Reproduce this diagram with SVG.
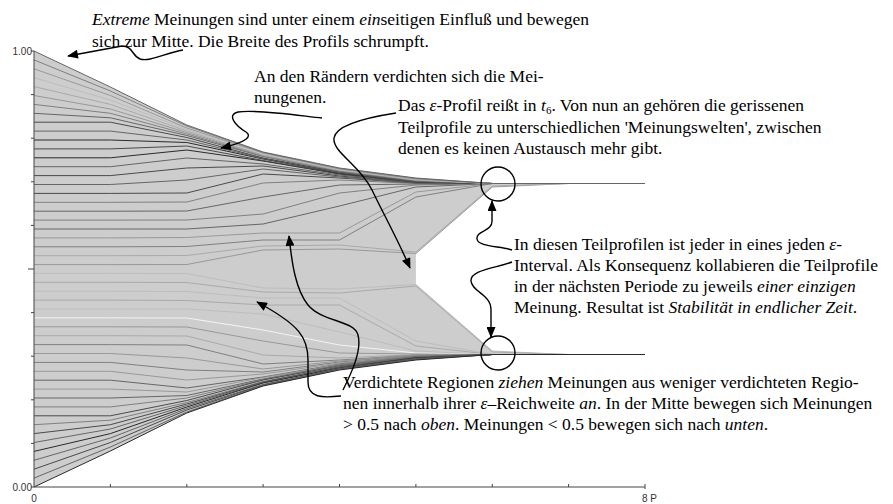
<svg xmlns="http://www.w3.org/2000/svg" width="893" height="504" viewBox="0 0 893 504">
<defs>
<style>
.t{font-family:"Liberation Serif","Times New Roman",serif;font-size:17.5px;fill:#000}
.i{font-style:italic}
.ax{font-family:"Liberation Sans",Arial,sans-serif;font-size:10px;fill:#333}
.axl{stroke:#444;stroke-width:1;fill:none}
.tr{fill:none;stroke-width:1}
.g1{stroke:#2a2a2a}.g2{stroke:#4a4a4a}.g3{stroke:#666}.g4{stroke:#808080}.g5{stroke:#999}.g6{stroke:#aaa}.g7{stroke:#bdbdbd}.gw{stroke:#f4f4f4}
.cn{fill:none;stroke:#000;stroke-width:1.4;marker-end:url(#ah)}
.ring{fill:none;stroke:#000;stroke-width:1.4}
</style>
<marker id="ah" viewBox="0 0 12 10" refX="11" refY="5" markerWidth="12" markerHeight="9" markerUnits="userSpaceOnUse" orient="auto"><path d="M0,0 L12,5 L0,10 z" fill="#000"/></marker>
</defs>
<rect width="893" height="504" fill="#fff"/>
<g id="chart">
<polygon fill="#cdcdcd" points="34,51 110.4,87 186.8,125 263.1,152 339.5,168 415.9,178 492.3,183.5 568.6,183.5 492.3,187 415.9,253.5 415.9,284.5 492.3,351 568.6,354.5 492.3,354.5 415.9,360 339.5,370 263.1,386 186.8,413 110.4,451 34,487"/>
<g id="trajectories">
<polyline class="tr g7" points="34,273.4 110.4,273.4 186.8,273.5 263.1,288 339.5,289 415.9,284.5 492.3,351 568.6,354.5 645,354.5"/>
<polyline class="tr g6" points="34,282.3 110.4,282.3 186.8,282.5 263.1,292 339.5,293 415.9,286 492.3,352 568.6,354.5 645,354.5"/>
<polyline class="tr g7" points="34,291.2 110.4,291.2 186.8,291.5 263.1,298 339.5,298 415.9,341 492.3,354.5 645,354.5"/>
<polyline class="tr g6" points="34,300.1 110.4,300.1 186.8,300.5 263.1,305 339.5,305 415.9,346 492.3,354.5 645,354.5"/>
<polyline class="tr g7" points="34,309 110.4,309 186.8,309 263.1,314 339.5,332 415.9,351 492.3,354.5 645,354.5"/>
<polyline class="tr gw" points="34,317.9 110.4,317.9 186.8,318 263.1,330 339.5,345 415.9,353 492.3,354.5 645,354.5"/>
<polyline class="tr g5" points="34,326.8 110.4,326.8 186.8,327 263.1,341 339.5,353 415.9,354 492.3,354.5 645,354.5"/>
<polyline class="tr g6" points="34,335.7 110.4,335.7 186.8,336 263.1,355 339.5,358 415.9,354.5 492.3,354.5 645,354.5"/>
<polyline class="tr g4" points="34,344.6 110.4,344.6 186.8,345 263.1,364 339.5,360 415.9,355 492.3,354.5 645,354.5"/>
<polyline class="tr g5" points="34,353.5 110.4,353.5 186.8,358 263.1,369 339.5,361 415.9,355 492.3,354.5 645,354.5"/>
<polyline class="tr g4" points="34,362.4 110.4,362.4 186.8,370 263.1,372 339.5,362 415.9,355.5 492.3,354.5 645,354.5"/>
<polyline class="tr g5" points="34,371.3 110.4,371.3 186.8,380 263.1,374 339.5,363 415.9,355.5 492.3,354.5 645,354.5"/>
<polyline class="tr g3" points="34,380.2 110.4,380.2 186.8,388 263.1,377 339.5,364 415.9,356 492.3,354.5 645,354.5"/>
<polyline class="tr g5" points="34,389.1 110.4,389.1 186.8,392 263.1,377.5 339.5,364.5 415.9,356 492.3,354.5 645,354.5"/>
<polyline class="tr g3" points="34,398 110.4,398 186.8,395.5 263.1,379 339.5,365 415.9,356.5 492.3,354.5 645,354.5"/>
<polyline class="tr g4" points="34,406.9 110.4,406.9 186.8,398 263.1,379.5 339.5,365.5 415.9,356.5 492.3,354.5 645,354.5"/>
<polyline class="tr g2" points="34,415.8 110.4,415.8 186.8,400.5 263.1,380 339.5,366 415.9,357 492.3,354.5 645,354.5"/>
<polyline class="tr g4" points="34,424.7 110.4,420.2 186.8,402.5 263.1,381.5 339.5,366.5 415.9,357 492.3,354.5 645,354.5"/>
<polyline class="tr g2" points="34,433.6 110.4,424.7 186.8,404 263.1,382 339.5,367 415.9,357.5 492.3,354.5 645,354.5"/>
<polyline class="tr g3" points="34,442.5 110.4,429 186.8,405.5 263.1,382.5 339.5,367.5 415.9,358 492.3,354.5 645,354.5"/>
<polyline class="tr g1" points="34,451.4 110.4,433.6 186.8,407 263.1,383 339.5,368 415.9,358 492.3,354.5 645,354.5"/>
<polyline class="tr g3" points="34,460.3 110.4,438 186.8,408.5 263.1,384.5 339.5,368.5 415.9,358.5 492.3,354.5 645,354.5"/>
<polyline class="tr g2" points="34,469.2 110.4,442.5 186.8,410 263.1,385 339.5,369 415.9,359 492.3,354.5 645,354.5"/>
<polyline class="tr g3" points="34,478.1 110.4,447 186.8,412 263.1,385.5 339.5,369.5 415.9,359.5 492.3,354.5 645,354.5"/>
<polyline class="tr g1" points="34,487 110.4,451 186.8,413 263.1,386 339.5,370 415.9,360 492.3,354.5 645,354.5"/>
<polyline class="tr g5" points="34,264.6 110.4,264.6 186.8,264.5 263.1,250 339.5,249 415.9,253.5 492.3,187 568.6,183.5 645,183.5"/>
<polyline class="tr g6" points="34,255.7 110.4,255.7 186.8,255.5 263.1,246 339.5,245 415.9,252 492.3,186 568.6,183.5 645,183.5"/>
<polyline class="tr g4" points="34,246.8 110.4,246.8 186.8,246.5 263.1,240 339.5,240 415.9,197 492.3,183.5 645,183.5"/>
<polyline class="tr g5" points="34,237.9 110.4,237.9 186.8,237.5 263.1,233 339.5,233 415.9,192 492.3,183.5 645,183.5"/>
<polyline class="tr g3" points="34,229 110.4,229 186.8,229 263.1,224 339.5,206 415.9,187 492.3,183.5 645,183.5"/>
<polyline class="tr g4" points="34,220.1 110.4,220.1 186.8,220 263.1,214 339.5,193 415.9,185 492.3,183.5 645,183.5"/>
<polyline class="tr g3" points="34,211.2 110.4,211.2 186.8,211 263.1,197 339.5,185 415.9,184 492.3,183.5 645,183.5"/>
<polyline class="tr g4" points="34,202.3 110.4,202.3 186.8,202 263.1,183 339.5,180 415.9,183.5 492.3,183.5 645,183.5"/>
<polyline class="tr g2" points="34,193.4 110.4,193.4 186.8,193 263.1,174 339.5,178 415.9,183 492.3,183.5 645,183.5"/>
<polyline class="tr g3" points="34,184.5 110.4,184.5 186.8,180 263.1,169 339.5,177 415.9,183 492.3,183.5 645,183.5"/>
<polyline class="tr g2" points="34,175.6 110.4,175.6 186.8,168 263.1,166 339.5,176 415.9,182.5 492.3,183.5 645,183.5"/>
<polyline class="tr g3" points="34,166.7 110.4,166.7 186.8,158 263.1,164 339.5,175 415.9,182.5 492.3,183.5 645,183.5"/>
<polyline class="tr g1" points="34,157.8 110.4,157.8 186.8,150 263.1,161 339.5,174 415.9,182 492.3,183.5 645,183.5"/>
<polyline class="tr g2" points="34,148.9 110.4,148.9 186.8,146 263.1,160.5 339.5,173.5 415.9,182 492.3,183.5 645,183.5"/>
<polyline class="tr g1" points="34,140 110.4,140 186.8,142.5 263.1,159 339.5,173 415.9,181.5 492.3,183.5 645,183.5"/>
<polyline class="tr g3" points="34,131.1 110.4,131.1 186.8,140 263.1,158.5 339.5,172.5 415.9,181.5 492.3,183.5 645,183.5"/>
<polyline class="tr g2" points="34,122.2 110.4,122.2 186.8,137.5 263.1,158 339.5,172 415.9,181 492.3,183.5 645,183.5"/>
<polyline class="tr g3" points="34,113.3 110.4,117.8 186.8,135.5 263.1,156.5 339.5,171.5 415.9,181 492.3,183.5 645,183.5"/>
<polyline class="tr g4" points="34,104.4 110.4,113.3 186.8,134 263.1,156 339.5,171 415.9,180.5 492.3,183.5 645,183.5"/>
<polyline class="tr g5" points="34,95.5 110.4,109 186.8,132.5 263.1,155.5 339.5,170.5 415.9,180 492.3,183.5 645,183.5"/>
<polyline class="tr g6" points="34,86.6 110.4,104.4 186.8,131 263.1,155 339.5,170 415.9,180 492.3,183.5 645,183.5"/>
<polyline class="tr g7" points="34,77.7 110.4,100 186.8,129.5 263.1,153.5 339.5,169.5 415.9,179.5 492.3,183.5 645,183.5"/>
<polyline class="tr g5" points="34,68.8 110.4,95.5 186.8,128 263.1,153 339.5,169 415.9,179 492.3,183.5 645,183.5"/>
<polyline class="tr g4" points="34,59.9 110.4,91 186.8,126 263.1,152.5 339.5,168.5 415.9,178.5 492.3,183.5 645,183.5"/>
<polyline class="tr g3" points="34,51 110.4,87 186.8,125 263.1,152 339.5,168 415.9,178 492.3,183.5 645,183.5"/>
</g>
<g id="axes">
<path class="axl" d="M34,51V487H645"/>
<path class="axl" d="M31,51H34M31,94.6H34M31,138.2H34M31,181.8H34M31,225.4H34M28,269H34M31,312.6H34M31,356.2H34M31,399.8H34M31,443.4H34M31,487H34"/>
<path class="axl" d="M110.4,484V487M186.8,484V487M263.1,484V487M339.5,484V487M415.9,484V487M492.3,484V487M568.6,484V487M645,484V489"/>
<text class="ax" x="32" y="54.5" text-anchor="end">1.00</text>
<text class="ax" x="32" y="490.5" text-anchor="end">0.00</text>
<text class="ax" x="34" y="502" text-anchor="middle">0</text>
<text class="ax" x="642" y="502">8 P</text>
</g>
</g>
<g id="rings">
<circle id="ring-upper" class="ring" cx="498" cy="184" r="17"/>
<circle id="ring-lower" class="ring" cx="498" cy="353" r="17"/>
</g>
<g id="note-extreme">
<text class="t" x="92" y="25"><tspan class="i">Extreme</tspan> Meinungen sind unter einem <tspan class="i">ein</tspan>seitigen Einfluß und bewegen</text>
<text class="t" x="92" y="47">sich zur Mitte. Die Breite des Profils schrumpft.</text>
</g>
<g id="note-raender">
<text class="t" x="254" y="82">An den Rändern verdichten sich die Mei-</text>
<text class="t" x="254" y="103">nungenen.</text>
</g>
<g id="note-riss">
<text class="t" x="398" y="111">Das <tspan class="i">ε</tspan>-Profil reißt in <tspan class="i">t</tspan><tspan font-size="11" dy="3">6</tspan><tspan dy="-3">. Von nun an gehören die gerissenen</tspan></text>
<text class="t" x="398" y="133">Teilprofile zu unterschiedlichen 'Meinungswelten', zwischen</text>
<text class="t" x="398" y="154">denen es keinen Austausch mehr gibt.</text>
</g>
<g id="note-teilprofile">
<text class="t" x="514" y="250">In diesen Teilprofilen ist jeder in eines jeden <tspan class="i">ε</tspan>-</text>
<text class="t" x="514" y="271">Interval. Als Konsequenz kollabieren die Teilprofile</text>
<text class="t" x="514" y="292">in der nächsten Periode zu jeweils <tspan class="i">einer einzigen</tspan></text>
<text class="t" x="514" y="313">Meinung. Resultat ist <tspan class="i">Stabilität in endlicher Zeit</tspan>.</text>
</g>
<g id="note-verdichtet">
<text class="t" x="343" y="388">Verdichtete Regionen <tspan class="i">ziehen</tspan> Meinungen aus weniger verdichteten Regio-</text>
<text class="t" x="343" y="409">nen innerhalb ihrer <tspan class="i">ε</tspan>–Reichweite <tspan class="i">an</tspan>. In der Mitte bewegen sich Meinungen</text>
<text class="t" x="343" y="430">&gt; 0.5 nach <tspan class="i">oben</tspan>. Meinungen &lt; 0.5 bewegen sich nach <tspan class="i">unten</tspan>.</text>
</g>
<g id="connectors">
<path class="cn" d="M183,50 C165,53 150,62 140,59 C132,56 133,46 122,46 L68,56"/>
<path class="cn" d="M322,118 C295,115 255,109 238,112 C226,115 236,126 246,132 C252,136 248,142 221,148"/>
<path class="cn" d="M396,113 C370,117 336,124 334,138 C332,152 360,165 372,190 C384,215 398,240 410,268"/>
<path class="cn" d="M512,250 C500,246 478,247 477,239 C476,230 493,232 492,220 L492,201"/>
<path class="cn" d="M512,262 C496,268 470,270 471,281 C472,292 491,294 491,310 L491,337"/>
<path class="cn" d="M341,396 C322,398 308,398 308,382 L308,360 C308,338 300,325 257,302"/>
<path class="cn" d="M343,390 C352,372 362,350 358,335 C354,320 322,322 308,305 C296,290 292,265 289,236"/>
</g>
</svg>
